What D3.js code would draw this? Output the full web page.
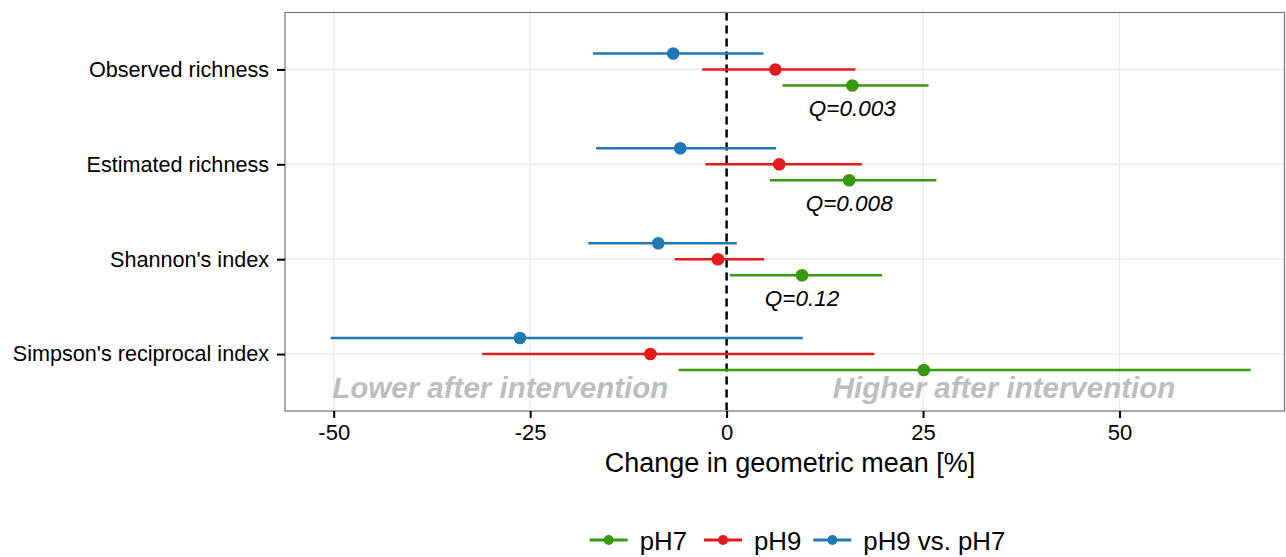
<!DOCTYPE html>
<html>
<head>
<meta charset="utf-8">
<script src="https://cdn.jsdelivr.net/npm/d3@7"></script>
<style>
  html, body { margin: 0; padding: 0; background: #fff; }
  svg { display: block; font-family: "Liberation Sans", Arial, Helvetica, sans-serif; }
</style>
</head>
<body>
<svg id="chart" width="1286" height="557"></svg>
<script>
// Diversity metrics (top to bottom)
const categories = ["Observed richness", "Estimated richness", "Shannon's index", "Simpson's reciprocal index"];

// Series in legend order
const seriesNames = ["pH7", "pH9", "pH9 vs. pH7"];
const seriesColors = ["#379a0c", "#e41a1c", "#1f78b4"];

// Change in geometric mean [%]: estimate and interval per metric
const pH7Mean = [16.0, 15.6, 9.6, 25.1];
const pH7Low = [7.1, 5.5, 0.4, -6.1];
const pH7High = [25.7, 26.7, 19.8, 66.7];

const pH9Mean = [6.2, 6.7, -1.1, -9.7];
const pH9Low = [-3.1, -2.7, -6.6, -31.1];
const pH9High = [16.4, 17.2, 4.8, 18.8];

const contrastMean = [-6.8, -5.9, -8.7, -26.3];
const contrastLow = [-17.0, -16.6, -17.6, -50.4];
const contrastHigh = [4.7, 6.3, 1.3, 9.7];

// Q values for the pH7 comparison
const qLabels = ["Q=0.003", "Q=0.008", "Q=0.12", null];

const xTicks = [-50, -25, 0, 25, 50];
const xTickLabels = ["-50", "-25", "0", "25", "50"];
const xDomain = [-56.2, 71.0];

const series = [
  { name: seriesNames[0], color: seriesColors[0], mean: pH7Mean, low: pH7Low, high: pH7High },
  { name: seriesNames[1], color: seriesColors[1], mean: pH9Mean, low: pH9Low, high: pH9High },
  { name: seriesNames[2], color: seriesColors[2], mean: contrastMean, low: contrastLow, high: contrastHigh }
];

const rows = [];
series.forEach(s => categories.forEach((c, i) => {
  rows.push({ series: s.name, color: s.color, cat: c, mean: s.mean[i], low: s.low[i], high: s.high[i] });
}));

const svg = d3.select("#chart");
const panel = { left: 285, right: 1284.5, top: 12.5, bottom: 411 };

const x = d3.scaleLinear().domain(xDomain).range([panel.left, panel.right]);
const y = d3.scalePoint().domain(categories).range([panel.top, panel.bottom]).padding(0.6);
// vertical dodge within each metric: contrast on top, pH9 middle, pH7 below
const dodge = d3.scalePoint().domain([seriesNames[2], seriesNames[1], seriesNames[0]]).range([-16, 16]);

// grid
const g = svg.append("g");
g.selectAll("line.vgrid").data(xTicks).join("line")
  .attr("x1", d => x(d)).attr("x2", d => x(d))
  .attr("y1", panel.top).attr("y2", panel.bottom)
  .attr("stroke", "#ebebeb").attr("stroke-width", 1.2);
g.selectAll("line.hgrid").data(categories).join("line")
  .attr("x1", panel.left).attr("x2", panel.right)
  .attr("y1", d => y(d)).attr("y2", d => y(d))
  .attr("stroke", "#ebebeb").attr("stroke-width", 1.2);

// zero reference
g.append("line")
  .attr("x1", x(0)).attr("x2", x(0))
  .attr("y1", panel.top).attr("y2", panel.bottom)
  .attr("stroke", "#000").attr("stroke-width", 2.5)
  .attr("stroke-dasharray", "8,5");

// annotations
const annot = [
  { text: "Lower after intervention", at: -28.8 },
  { text: "Higher after intervention", at: 35.3 }
];
g.selectAll("text.annot").data(annot).join("text")
  .attr("x", d => x(d.at)).attr("y", 398)
  .attr("text-anchor", "middle")
  .attr("font-size", 29.5).attr("font-weight", "bold").attr("font-style", "italic")
  .attr("fill", "#bebebe")
  .text(d => d.text);

// intervals
g.selectAll("line.ci").data(rows).join("line")
  .attr("x1", d => x(d.low)).attr("x2", d => x(d.high))
  .attr("y1", d => y(d.cat) + dodge(d.series)).attr("y2", d => y(d.cat) + dodge(d.series))
  .attr("stroke", d => d.color).attr("stroke-width", 2.4);

// estimates
g.selectAll("circle.pt").data(rows).join("circle")
  .attr("cx", d => x(d.mean)).attr("cy", d => y(d.cat) + dodge(d.series))
  .attr("r", 6.3).attr("fill", d => d.color);

// Q labels under the pH7 estimates
const qRows = categories.map((c, i) => ({ cat: c, mean: pH7Mean[i], label: qLabels[i] })).filter(d => d.label);
g.selectAll("text.q").data(qRows).join("text")
  .attr("x", d => x(d.mean)).attr("y", d => y(d.cat) + dodge(seriesNames[0]) + 30.5)
  .attr("text-anchor", "middle").attr("font-size", 22.5).attr("font-style", "italic")
  .attr("fill", "#000")
  .text(d => d.label);

// panel border
svg.append("rect")
  .attr("x", panel.left).attr("y", panel.top)
  .attr("width", panel.right - panel.left).attr("height", panel.bottom - panel.top)
  .attr("fill", "none").attr("stroke", "#7f7f7f").attr("stroke-width", 1.3);

// axes
const xAxis = svg.append("g").attr("transform", `translate(0,${panel.bottom})`)
  .call(d3.axisBottom(x).tickValues(xTicks)
    .tickFormat((d, i) => xTickLabels[i]).tickSize(7).tickPadding(6));
xAxis.select(".domain").remove();
xAxis.selectAll(".tick line").attr("stroke", "#000").attr("stroke-width", 2);
xAxis.selectAll(".tick text").attr("font-size", 22).attr("fill", "#000")
  .attr("font-family", "'Liberation Sans', Arial, sans-serif");

const yAxis = svg.append("g").attr("transform", `translate(${panel.left},0)`)
  .call(d3.axisLeft(y).tickSize(8).tickPadding(8));
yAxis.select(".domain").remove();
yAxis.selectAll(".tick line").attr("stroke", "#000").attr("stroke-width", 2);
yAxis.selectAll(".tick text").attr("font-size", 21.6).attr("fill", "#000")
  .attr("font-family", "'Liberation Sans', Arial, sans-serif");

svg.append("text")
  .attr("x", 790).attr("y", 472)
  .attr("text-anchor", "middle").attr("font-size", 27).attr("fill", "#000")
  .text("Change in geometric mean [%]");

// legend
const legend = svg.append("g");
const keyW = 38, keyGap = 12, itemGap = 12;
const items = legend.selectAll("g.item").data(series).join("g");
items.append("line").attr("x1", 0).attr("x2", keyW).attr("y1", 0).attr("y2", 0)
  .attr("stroke", d => d.color).attr("stroke-width", 3);
items.append("circle").attr("cx", keyW / 2).attr("cy", 0).attr("r", 5).attr("fill", d => d.color);
items.append("text").attr("x", keyW + keyGap).attr("y", 9.5)
  .attr("font-size", 25.8).attr("fill", "#000").text(d => d.name);
let cursor = 0;
items.each(function () {
  const w = keyW + keyGap + d3.select(this).select("text").node().getComputedTextLength();
  d3.select(this).attr("data-x", cursor);
  cursor += w + itemGap + (cursor === 0 ? 5 : 0);
});
const total = cursor - itemGap - 5;
const startX = 795 - total / 2;
items.attr("transform", function () { return `translate(${startX + (+this.getAttribute("data-x"))},540)`; });
</script>
</body>
</html>
